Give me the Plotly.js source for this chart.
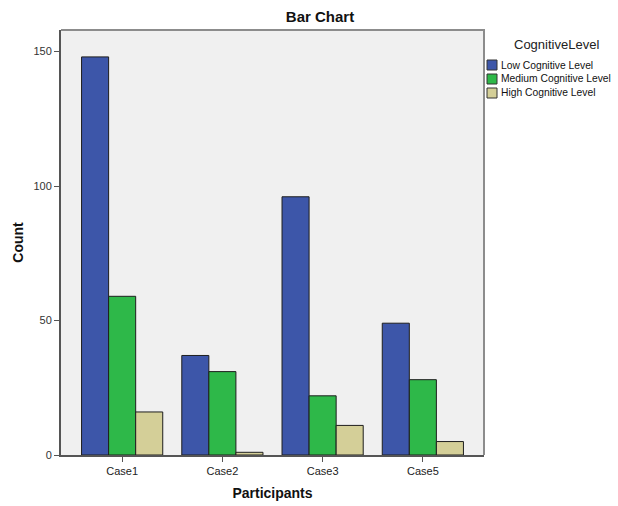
<!DOCTYPE html>
<html>
<head>
<meta charset="utf-8">
<script src="https://cdn.plot.ly/plotly-3.0.1.min.js"></script>
<style>html,body{margin:0;padding:0;background:#fff;}#chart{width:618px;height:506px;}</style>
</head>
<body>
<div id="chart"></div>
<script>
// ---- data ----
var categories = ['Case1', 'Case2', 'Case3', 'Case5'];
var seriesNames = ['Low Cognitive Level', 'Medium Cognitive Level', 'High Cognitive Level'];
var lowCounts = [148, 37, 96, 49];
var mediumCounts = [59, 31, 22, 28];
var highCounts = [16, 1, 11, 5];
var yTicks = [0, 50, 100, 150];
var legendTitle = 'CognitiveLevel';
var chartTitle = 'Bar Chart';
var xTitle = 'Participants';
var yTitle = 'Count';

// ---- style ----
var colors = ['#3d56a9', '#2eb849', '#d4cf98'];
var FONT = 'Liberation Sans, Arial, sans-serif';
var W = 618, H = 506;
var M = {l: 61, r: 134, t: 30, b: 51};
var PW = W - M.l - M.r, PH = H - M.t - M.b;
function px2x(px) { return (px - M.l) / PW; }
function px2y(py) { return (H - M.b - py) / PH; }

var values = [lowCounts, mediumCounts, highCounts];
var traces = values.map(function (v, i) {
  return {
    type: 'bar', x: categories, y: v, name: seriesNames[i],
    marker: {color: colors[i], line: {color: '#1e1e1e', width: 1}},
    showlegend: false, hoverinfo: 'x+y+name'
  };
});

var shapes = [
  // top and right border of plot area
  {type: 'path', xref: 'paper', yref: 'paper',
   path: 'M 0 1 L 1 1 L 1 0', line: {color: '#8c8c8c', width: 2}}
];
var annotations = [
  {xref: 'paper', yref: 'paper', x: px2x(556), y: px2y(45), text: legendTitle,
   showarrow: false, xanchor: 'center', yanchor: 'middle',
   font: {family: FONT, size: 13, color: '#222'}}
];
seriesNames.forEach(function (n, i) {
  var cy = 65 + i * 14;
  shapes.push({type: 'rect', xref: 'paper', yref: 'paper',
    x0: px2x(487), x1: px2x(497), y0: px2y(cy - 5), y1: px2y(cy + 5),
    fillcolor: colors[i], line: {color: '#333', width: 1}});
  annotations.push({xref: 'paper', yref: 'paper', x: px2x(499), y: px2y(cy), text: n,
    showarrow: false, xanchor: 'left', yanchor: 'middle',
    font: {family: FONT, size: 10.3, color: '#111'}});
});

var layout = {
  width: W, height: H,
  margin: M,
  paper_bgcolor: '#ffffff', plot_bgcolor: '#f0f0f0',
  font: {family: FONT, size: 11, color: '#222'},
  title: {text: '<b>' + chartTitle + '</b>', x: 320 / W, xanchor: 'center',
          y: 1 - 17 / H, yanchor: 'middle', font: {family: FONT, size: 15, color: '#111'}},
  barmode: 'group', bargap: 0.19, bargroupgap: 0,
  showlegend: false,
  xaxis: {
    type: 'category', range: [-0.61, 3.61], fixedrange: true,
    showline: true, linecolor: '#555', linewidth: 2,
    ticks: 'outside', ticklen: 5, tickcolor: '#555', tickwidth: 1,
    showgrid: false, zeroline: false,
    tickfont: {family: FONT, size: 11, color: '#222'},
    title: {text: '<b>' + xTitle + '</b>', standoff: 12,
            font: {family: FONT, size: 14, color: '#111'}},
    automargin: false
  },
  yaxis: {
    range: [0, 158], tickvals: yTicks, fixedrange: true,
    showline: true, linecolor: '#555', linewidth: 2,
    ticks: 'outside', ticklen: 5, tickcolor: '#555', tickwidth: 1,
    showgrid: false, zeroline: false,
    tickfont: {family: FONT, size: 11, color: '#333'},
    title: {text: '<b>' + yTitle + '</b>', standoff: 7,
            font: {family: FONT, size: 14, color: '#111'}},
    automargin: false
  },
  shapes: shapes,
  annotations: annotations
};

Plotly.newPlot('chart', traces, layout, {displayModeBar: false, staticPlot: true});
</script>
</body>
</html>
